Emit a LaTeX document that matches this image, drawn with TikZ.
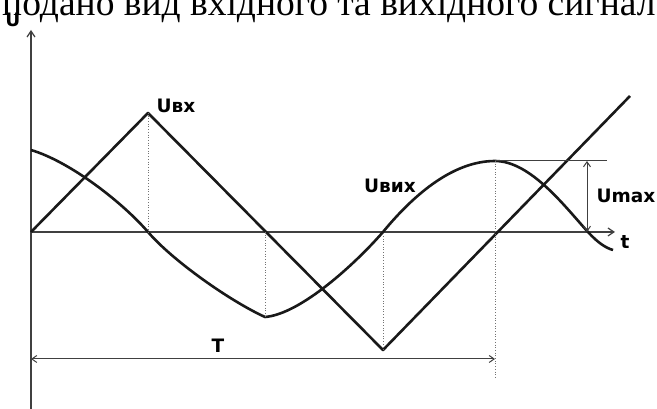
\documentclass[tikz,border=0pt]{standalone}
\usepackage{fontspec}
\setmainfont{Liberation Serif}
\newfontfamily\labelfont{DejaVu Sans}
\usetikzlibrary{arrows.meta}

\tikzset{
  axis/.style={line width=1.2pt, black!75, -{Straight Barb[length=6pt,width=8pt]}},
  signal/.style={line width=2.6pt, black!90, line join=round},
  guide/.style={line width=0.7pt, black!55, dotted},
  dimline/.style={line width=1pt, black!75,
    {Straight Barb[length=5pt,width=7pt]}-{Straight Barb[length=5pt,width=7pt]}},
  lbl/.style={font=\labelfont\bfseries\fontsize{18.5}{18.5}\selectfont, inner sep=0pt},
}

\begin{document}
\begin{tikzpicture}[x=1pt, y=1pt]

% --- Frame ---
\useasboundingbox (-31,-177) rectangle (626,232);
\clip (-31,-177) rectangle (626,232);

% --- Heading line (cut off) ---
\node[anchor=base west, inner sep=0pt, font=\fontsize{37.5}{37.5}\selectfont] (head)
  at (-29,216) {подано вид вхідного та вихідного сигнал};

% --- Axes ---
\coordinate (O) at (0,0);
\coordinate (ytop) at (0,202);
\coordinate (ybot) at (0,-177);
\coordinate (xend) at (584,0);
\draw[axis] (ybot) -- (ytop);
\draw[axis] (O) -- (xend);
\node[lbl] (U) at (-18,212) {U};
\node[lbl] (t) at (594,-10) {t};

% --- Input signal (triangle) ---
\draw[signal] (O) -- (117,119) coordinate (inpeak)
  -- (352,-118) coordinate (inlow) -- (599,136);
\node[lbl] (uin) at (145,126) {Uвх};

% --- Output signal ---
\coordinate (outmin) at (234,-85);
\coordinate (outmax) at (464,71);
\draw[signal] (0,82) .. controls (40,70) and (92,29) .. (117,0)
  .. controls (142,-29) and (199,-69) .. (outmin)
  .. controls (270,-82) and (325,-31) .. (352,0)
  .. controls (380,34) and (420,71) .. (outmax)
  .. controls (500,71) and (535,24) .. (557,0)
  .. controls (567,-11) and (575,-16) .. (582,-18);
\node[lbl] (uout) at (359,46) {Uвих};

% --- Guide lines ---
\draw[guide] (inpeak) -- (117,0);
\draw[guide] (234,0) -- (outmin);
\draw[guide] (inlow) -- (352,0);
\draw[guide] (outmax) -- (464,-146);

% --- Amplitude ---
\coordinate (maxend) at (576,71);
\draw[line width=1pt, black!75] (outmax) -- (maxend);
\draw[dimline] (556,71) -- (556,0);
\node[lbl] (umax) at (595,36) {Umax};

% --- Period ---
\draw[dimline] (0,-127) -- (464,-127);
\node[lbl] (per) at (187,-114) {T};

\end{tikzpicture}
\end{document}
